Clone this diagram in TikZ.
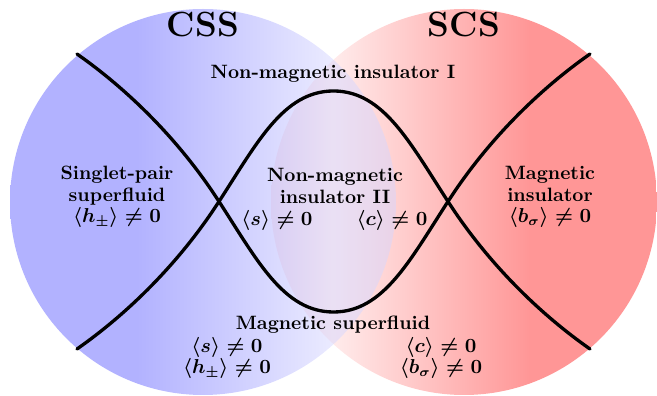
\documentclass[tikz,border=0pt]{standalone}
\usepackage{amsmath}
\pgfdeclarehorizontalshading{lshade}{100bp}{color(0bp)=(blue!60); color(41.5bp)=(blue!60); color(66.7bp)=(blue!16); color(100bp)=(blue!16)}
\pgfdeclarehorizontalshading{rshade}{100bp}{color(0bp)=(red!16); color(33.3bp)=(red!16); color(58.5bp)=(red!82); color(100bp)=(red!82)}
\begin{document}
\begin{tikzpicture}[x=0.5435pt,y=-0.5435pt,
  lbl/.style={align=center,font=\fontsize{10.5}{11.6}\selectfont\bfseries\boldmath,inner sep=0pt},
  big/.style={font=\fontsize{19}{21}\selectfont\bfseries,inner sep=0pt},
  bdry/.style={line width=1.8pt,line cap=round}]
\useasboundingbox (0,0) rectangle (657,396);
% circles
\shade[shading=rshade,fill opacity=0.5] (464,202) circle[radius=193];
\shade[shading=lshade,fill opacity=0.5] (203,202) circle[radius=193];
% phase boundaries
\draw[bdry] (77,54) .. controls (127,89) and (179,139.5) .. (219,201.5)
  .. controls (257,260) and (283.5,312) .. (333.5,312)
  .. controls (383.5,312) and (410,260) .. (448,201.5)
  .. controls (488,139.5) and (540,89) .. (590,54);
\draw[bdry] (77,349) .. controls (127,314) and (179,263.5) .. (219,201.5)
  .. controls (257,143) and (283.5,91) .. (333.5,91)
  .. controls (383.5,91) and (410,143) .. (448,201.5)
  .. controls (488,263.5) and (540,314) .. (590,349);
% titles
\node[big] (css) at (203,25) {CSS};
\node[big] (scs) at (464,25) {SCS};
% labels
\node[lbl] (nmi1) at (333,74) {Non-magnetic insulator I};
\node[lbl] (ssf) at (117,197) {Singlet-pair\\superfluid\\$\langle h_\pm\rangle\neq0$};
\node[lbl] (nmi2) at (335,186) {Non-magnetic\\insulator II};
\node[lbl] (s1) at (277,220) {$\langle s\rangle\neq0$};
\node[lbl] (c1) at (392,220) {$\langle c\rangle\neq0$};
\node[lbl] (mi) at (550,197) {Magnetic\\insulator\\$\langle b_\sigma\rangle\neq0$};
\node[lbl] (msf) at (333,325) {Magnetic superfluid};
\node[lbl] (msfl) at (227,358) {$\langle s\rangle\neq0$\\$\langle h_\pm\rangle\neq0$};
\node[lbl] (msfr) at (441,358) {$\langle c\rangle\neq0$\\$\langle b_\sigma\rangle\neq0$};
\end{tikzpicture}
\end{document}
